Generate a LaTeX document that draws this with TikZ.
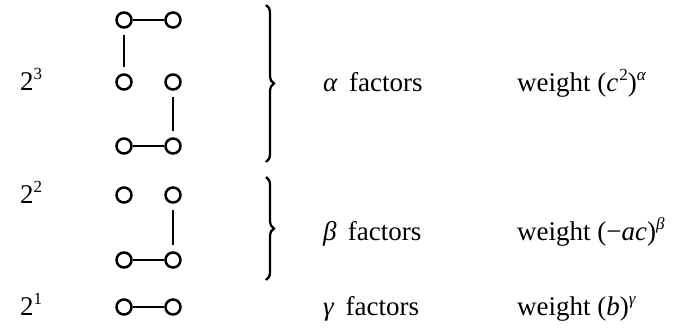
\documentclass[tikz,border=0pt]{standalone}
\usepackage{fontspec}
\setmainfont{Liberation Serif}
\usetikzlibrary{decorations.pathreplacing}
\newcommand{\mysup}[1]{\raisebox{0.4em}{\fontsize{17}{17}\selectfont #1}}
\begin{document}
\begin{tikzpicture}[x=1pt,y=-1pt,
  dot/.style={circle,draw,line width=2.5pt,minimum size=15pt,inner sep=0pt},
  link/.style={line width=1.8pt},
  vlink/.style={line width=1.8pt,shorten >=6pt,shorten <=6pt},
  bracegap/.style={decorate,decoration={brace,amplitude=8pt},line width=2.3pt},
  lab/.style={anchor=base west,inner sep=0pt,font=\fontsize{27}{32}\selectfont}]
\useasboundingbox (0,0) rectangle (676,327);
% alpha block
\node[dot] (a1) at (124,20) {};
\node[dot] (a2) at (173,20) {};
\node[dot] (a3) at (124,82) {};
\node[dot] (a4) at (173,82) {};
\node[dot] (a5) at (124,146) {};
\node[dot] (a6) at (173,146) {};
\draw[link] (a1) -- (a2);
\draw[vlink] (a1) -- (a3);
\draw[vlink] (a4) -- (a6);
\draw[link] (a5) -- (a6);
% beta block
\node[dot] (b1) at (124,195) {};
\node[dot] (b2) at (173,195) {};
\node[dot] (b3) at (124,260) {};
\node[dot] (b4) at (173,260) {};
\draw[vlink] (b2) -- (b4);
\draw[link] (b3) -- (b4);
% gamma
\node[dot] (g1) at (124,307) {};
\node[dot] (g2) at (173,307) {};
\draw[link] (g1) -- (g2);
% braces
\coordinate (ba1) at (266,5);
\coordinate (ba2) at (266,162);
\coordinate (bb1) at (266,177);
\coordinate (bb2) at (266,280);
\draw[bracegap] (ba1) -- (ba2);
\draw[bracegap] (bb1) -- (bb2);
% left labels
\node[lab] (p3) at (20,90) {2\mysup{3}};
\node[lab] (p2) at (20,203) {2\mysup{2}};
\node[lab] (p1) at (20,315) {2\mysup{1}};
% factor labels
\node[lab] (fa) at (323,91) {\textit{α}\, factors};
\node[lab] (fb) at (323,240) {\textit{β}\, factors};
\node[lab] (fg) at (323,315) {\textit{γ}\, factors};
% weights
\node[lab] (wa) at (517,91) {weight (\textit{c}\kern1pt\mysup{2})\mysup{\textit{α}}};
\node[lab] (wb) at (517,240) {weight (−\textit{ac})\mysup{\textit{β}}};
\node[lab] (wg) at (517,315) {weight (\textit{b})\mysup{\textit{γ}}};
\end{tikzpicture}
\end{document}
